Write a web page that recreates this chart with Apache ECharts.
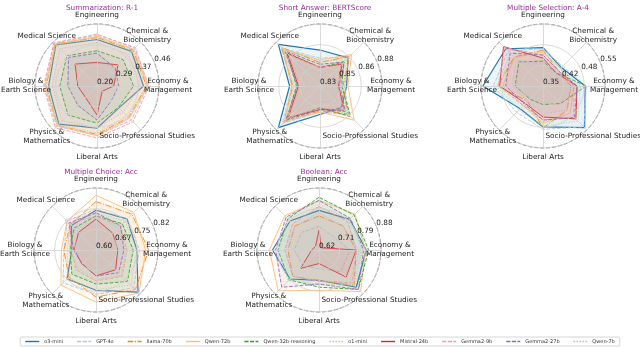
<!DOCTYPE html>
<html>
<head>
<meta charset="utf-8">
<script src="https://cdn.jsdelivr.net/npm/echarts@6/dist/echarts.min.js"></script>
<style>
  html, body { margin: 0; padding: 0; background: #fff; }
  #chart { width: 640px; height: 347px; }
</style>
</head>
<body>
<div id="chart"></div>
<script>
// subject axes, clockwise from the top
const subjects = ['Engineering', 'Chemical &\nBiochemistry', 'Economy &\nManagement', 'Socio-Professional Studies',
    'Liberal Arts', 'Physics &\nMathematics', 'Biology &\nEarth Science', 'Medical Science'];
const models = ['o3-mini', 'GPT-4o', 'llama-70b', 'Qwen-72b', 'Qwen-32b-reasoning',
    'o1-mini', 'Mistral-24b', 'Gemma2-9b', 'Gemma2-27b', 'Qwen-7b'];
const taskTitles = ['Summarization: R-1', 'Short Answer: BERTScore', 'Multiple Selection: A-4',
    'Multiple Choice: Acc', 'Boolean: Acc'];

// radial range and tick labels per task
const rangeMin = [0.20, 0.83, 0.35, 0.60, 0.62];
const rangeMax = [0.46, 0.88, 0.55, 0.82, 0.88];
const tickLabels = [
    ['0.20', '0.29', '0.37', '0.46'],
    ['0.83', '0.85', '0.86', '0.88'],
    ['0.35', '0.42', '0.48', '0.55'],
    ['0.60', '0.67', '0.75', '0.82'],
    ['0.62', '0.71', '0.79', '0.88']
];

// scores: one row per model, columns follow `subjects`
const summarization = [
    [0.395, 0.405, 0.395, 0.330, 0.377, 0.426, 0.403, 0.444],
    [0.413, 0.429, 0.413, 0.403, 0.408, 0.439, 0.421, 0.455],
    [0.403, 0.413, 0.408, 0.387, 0.403, 0.434, 0.413, 0.450],
    [0.408, 0.418, 0.413, 0.392, 0.408, 0.434, 0.418, 0.447],
    [0.348, 0.356, 0.353, 0.327, 0.356, 0.372, 0.356, 0.379],
    [0.403, 0.408, 0.408, 0.382, 0.398, 0.429, 0.413, 0.442],
    [0.299, 0.325, 0.270, 0.231, 0.322, 0.268, 0.281, 0.330],
    [0.418, 0.424, 0.418, 0.413, 0.418, 0.447, 0.424, 0.455],
    [0.338, 0.307, 0.291, 0.286, 0.343, 0.314, 0.322, 0.369],
    [0.382, 0.387, 0.382, 0.356, 0.377, 0.408, 0.387, 0.421]
];
const shortAnswer = [
    [0.859, 0.862, 0.8515, 0.8545, 0.853, 0.8775, 0.8545, 0.8775],
    [0.8525, 0.863, 0.850, 0.863, 0.851, 0.873, 0.8525, 0.873],
    [0.849, 0.864, 0.8485, 0.862, 0.850, 0.871, 0.852, 0.874],
    [0.851, 0.866, 0.8525, 0.869, 0.851, 0.870, 0.853, 0.872],
    [0.845, 0.8575, 0.8475, 0.865, 0.8475, 0.868, 0.849, 0.868],
    [0.850, 0.860, 0.850, 0.860, 0.850, 0.870, 0.851, 0.871],
    [0.845, 0.855, 0.845, 0.8575, 0.849, 0.866, 0.8475, 0.867],
    [0.845, 0.854, 0.844, 0.8575, 0.848, 0.866, 0.846, 0.866],
    [0.8475, 0.8575, 0.846, 0.859, 0.849, 0.869, 0.848, 0.870],
    [0.840, 0.8475, 0.840, 0.850, 0.8425, 0.8575, 0.840, 0.8575]
];
const multiSelection = [
    [0.474, 0.434, 0.486, 0.540, 0.482, 0.454, 0.544, 0.520],
    [0.470, 0.440, 0.490, 0.536, 0.490, 0.470, 0.510, 0.510],
    [0.466, 0.420, 0.440, 0.460, 0.486, 0.420, 0.496, 0.482],
    [0.460, 0.430, 0.450, 0.474, 0.470, 0.440, 0.480, 0.480],
    [0.430, 0.410, 0.490, 0.430, 0.410, 0.410, 0.440, 0.460],
    [0.460, 0.430, 0.470, 0.510, 0.480, 0.460, 0.500, 0.500],
    [0.440, 0.410, 0.460, 0.500, 0.450, 0.430, 0.490, 0.530],
    [0.450, 0.420, 0.450, 0.490, 0.460, 0.440, 0.494, 0.526],
    [0.450, 0.420, 0.460, 0.494, 0.460, 0.434, 0.470, 0.500],
    [0.420, 0.410, 0.440, 0.460, 0.440, 0.420, 0.450, 0.470]
];
const multiChoice = [
    [0.741, 0.756, 0.745, 0.811, 0.743, 0.745, 0.686, 0.723],
    [0.745, 0.758, 0.754, 0.789, 0.758, 0.765, 0.714, 0.745],
    [0.772, 0.780, 0.787, 0.798, 0.767, 0.736, 0.714, 0.728],
    [0.794, 0.789, 0.776, 0.816, 0.785, 0.776, 0.723, 0.745],
    [0.721, 0.732, 0.732, 0.758, 0.721, 0.721, 0.692, 0.710],
    [0.732, 0.745, 0.745, 0.776, 0.741, 0.745, 0.701, 0.732],
    [0.710, 0.684, 0.677, 0.699, 0.692, 0.670, 0.677, 0.688],
    [0.721, 0.721, 0.710, 0.732, 0.710, 0.699, 0.688, 0.732],
    [0.732, 0.723, 0.699, 0.714, 0.692, 0.670, 0.679, 0.736],
    [0.728, 0.710, 0.706, 0.728, 0.706, 0.692, 0.692, 0.754]
];
const booleanAcc = [
    [0.786, 0.802, 0.818, 0.841, 0.747, 0.792, 0.815, 0.792],
    [0.719, 0.703, 0.750, 0.750, 0.698, 0.714, 0.724, 0.724],
    [0.763, 0.763, 0.776, 0.828, 0.750, 0.776, 0.750, 0.763],
    [0.828, 0.833, 0.815, 0.867, 0.789, 0.862, 0.828, 0.823],
    [0.841, 0.828, 0.828, 0.854, 0.776, 0.797, 0.792, 0.805],
    [0.802, 0.802, 0.802, 0.828, 0.763, 0.802, 0.789, 0.802],
    [0.703, 0.633, 0.776, 0.781, 0.677, 0.729, 0.651, 0.641],
    [0.802, 0.789, 0.776, 0.815, 0.750, 0.776, 0.763, 0.776],
    [0.828, 0.807, 0.807, 0.854, 0.763, 0.841, 0.802, 0.815],
    [0.776, 0.763, 0.789, 0.815, 0.750, 0.776, 0.763, 0.763]
];
const taskScores = [summarization, shortAnswer, multiSelection, multiChoice, booleanAcc];

const colors = ['#1f77b4', '#aec7e8', '#ff7f0e', '#ffbb78', '#2ca02c',
    '#98df8a', '#d62728', '#ff9896', '#9467bd', '#c5b0d5'];
const styles = ['solid', 'dashed', 'dashdot', 'solid', 'dashed',
    'dotted', 'solid', 'dashed', 'dashed', 'dotted'];

const dashes = {
    solid: 'solid',
    dashed: [3.7, 1.6],
    dashdot: [6.4, 1.6, 1, 1.6],
    dotted: [1, 1.65]
};
const legendIcons = {
    solid: 'path://M0,0h20v2h-20z',
    dashed: 'path://M0,0h6v2h-6z M8,0h6v2h-6z M16,0h4v2h-4z',
    dashdot: 'path://M0,0h8v2h-8z M10,0h2v2h-2z M14,0h6v2h-6z',
    dotted: 'path://M0,0h2v2h-2z M4,0h2v2h-2z M8,0h2v2h-2z M12,0h2v2h-2z M16,0h2v2h-2z'
};

const FONT = 'DejaVu Sans';
const centers = [[97, 86], [320, 86], [543, 86], [96, 250], [319, 250]];
const R = 62;
// echarts lays radar indicators out counter-clockwise, so reverse the order after the first
const order = [0, 7, 6, 5, 4, 3, 2, 1];

const chart = echarts.init(document.getElementById('chart'));

const radars = [], polars = [], angleAxes = [], radiusAxes = [], series = [], titles = [];
taskTitles.forEach((t, k) => {
    const c = centers[k];
    titles.push({
        text: t, left: c[0], top: c[1] - 86, textAlign: 'center',
        textStyle: { color: '#9a2f9a', fontSize: 7.3, fontWeight: 'normal', fontFamily: FONT }
    });
    radars.push({
        center: c, radius: R, shape: 'circle', z: 3,
        indicator: order.map(i => ({ name: subjects[i], min: rangeMin[k], max: rangeMax[k] })),
        axisNameGap: 9,
        axisName: { color: '#222', fontSize: 7.3, fontFamily: FONT, align: 'center', verticalAlign: 'middle', lineHeight: 9 },
        axisLine: { lineStyle: { color: '#d0d0d0', width: 0.8 } },
        splitLine: { show: false },
        splitArea: { show: false },
        axisTick: { show: false },
        axisLabel: { show: false }
    });
    polars.push({ center: c, radius: R });
    angleAxes.push({
        polarIndex: k, type: 'value', min: 0, max: 360, startAngle: 22.5,
        axisLine: { lineStyle: { color: '#555', width: 0.8, type: [4, 2] } },
        axisTick: { show: false }, axisLabel: { show: false }, splitLine: { show: false }
    });
    radiusAxes.push({
        polarIndex: k, type: 'category', data: tickLabels[k], boundaryGap: false, z: 3,
        axisLine: { show: false }, axisTick: { show: false, interval: 0 },
        splitLine: { show: true, interval: 0, lineStyle: { color: '#d0d0d0', width: 0.8 } },
        axisLabel: {
            interval: 0, margin: 0, align: 'left', verticalAlign: 'bottom',
            color: '#222', fontSize: 7.3, fontFamily: FONT
        }
    });
    series.push({
        type: 'radar', radarIndex: k, symbol: 'none', z: 2,
        data: taskScores[k].map((row, m) => ({
            name: models[m],
            value: order.map(i => row[i]),
            itemStyle: { color: colors[m] },
            lineStyle: { color: colors[m], width: m === 0 ? 1.2 : 0.9, type: dashes[styles[m]] },
            areaStyle: { color: colors[m], opacity: 0.08 }
        }))
    });
});

chart.setOption({
    animation: false,
    title: titles,
    radar: radars,
    polar: polars,
    angleAxis: angleAxes,
    radiusAxis: radiusAxes,
    legend: {
        bottom: 1, left: 'center',
        selectedMode: false,
        itemWidth: 14, itemHeight: 1.5, itemGap: 14,
        padding: [2, 5],
        borderColor: '#ccc', borderWidth: 0.8, borderRadius: 2,
        textStyle: { fontSize: 5, color: '#333', fontFamily: FONT },
        data: models.map((m, i) => ({ name: m, icon: legendIcons[styles[i]] }))
    },
    series: series
});
</script>
</body>
</html>
